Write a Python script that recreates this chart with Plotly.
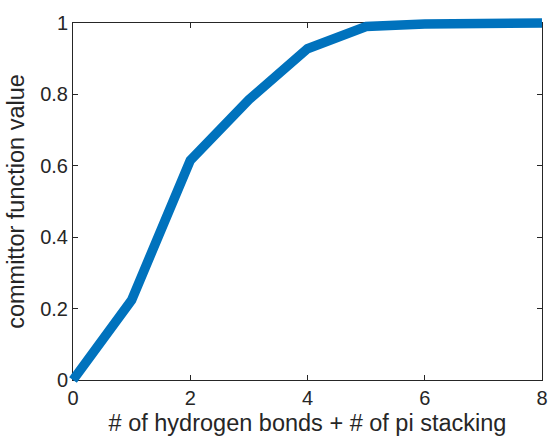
import plotly.graph_objects as go

x_vals = [0, 1, 2, 3, 4, 5, 6, 7, 8]
y_vals = [0.0, 0.224, 0.615, 0.785, 0.928, 0.99, 0.997, 0.999, 1.0]
x_ticks = [0, 2, 4, 6, 8]
y_ticks = [0, 0.2, 0.4, 0.6, 0.8, 1]
y_tick_labels = ["0", "0.2", "0.4", "0.6", "0.8", "1"]

W, H = 548, 442
# axes box in pixels
AX_L, AX_R, AX_T, AX_B = 73, 542, 23, 380
ML, MR, MT, MB = 60, 0, 10, 50
pw = W - ML - MR
ph = H - MT - MB

xd = [(AX_L - ML) / pw, (AX_R - ML) / pw]
yd = [(H - MB - AX_B) / ph, (H - MB - AX_T) / ph]

xpp = 8 / (AX_R - AX_L)
ypp = 1 / (AX_B - AX_T)
x2r = [0 - (AX_L - ML) * xpp, 8 + (W - MR - AX_R) * xpp]
y2r = [0 - (H - MB - AX_B) * ypp, 1 + (AX_T - MT) * ypp]

tfont = dict(family="Liberation Sans, Arial, sans-serif", size=20, color="#262626")
lfont = dict(family="Liberation Sans, Arial, sans-serif", size=23.5, color="#262626")

fig = go.Figure()
fig.add_trace(go.Scatter(x=[0, 8], y=[0, 1], mode="none", showlegend=False,
                         hoverinfo="skip", xaxis="x", yaxis="y"))
fig.add_trace(go.Scatter(x=x_vals, y=y_vals, mode="lines",
                         line=dict(color="#0072BD", width=9.5),
                         showlegend=False, xaxis="x2", yaxis="y2"))

fig.update_layout(
    width=W, height=H,
    margin=dict(l=ML, r=MR, t=MT, b=MB),
    paper_bgcolor="white", plot_bgcolor="rgba(0,0,0,0)",
    font=tfont,
    xaxis=dict(domain=xd, range=[0, 8], tickvals=x_ticks, ticks="inside",
               ticklen=5, tickcolor="#262626", showline=True, linecolor="#262626",
               linewidth=1, mirror="ticks", showgrid=False, zeroline=False,
               tickfont=tfont, anchor="y", automargin=False,
               title=dict(text="# of hydrogen bonds + # of pi stacking", font=lfont, standoff=6)),
    yaxis=dict(domain=yd, range=[0, 1], tickvals=y_ticks, ticktext=y_tick_labels,
               ticks="inside", ticklen=5, tickcolor="#262626", showline=True,
               linecolor="#262626", linewidth=1, mirror="ticks", showgrid=False,
               zeroline=False, tickfont=tfont, anchor="x", automargin=False,
               title=dict(text="committor function value", font=lfont, standoff=8)),
    xaxis2=dict(domain=[0, 1], range=x2r, visible=False, anchor="y2"),
    yaxis2=dict(domain=[0, 1], range=y2r, visible=False, anchor="x2"),
)

fig.write_html("out.html")
